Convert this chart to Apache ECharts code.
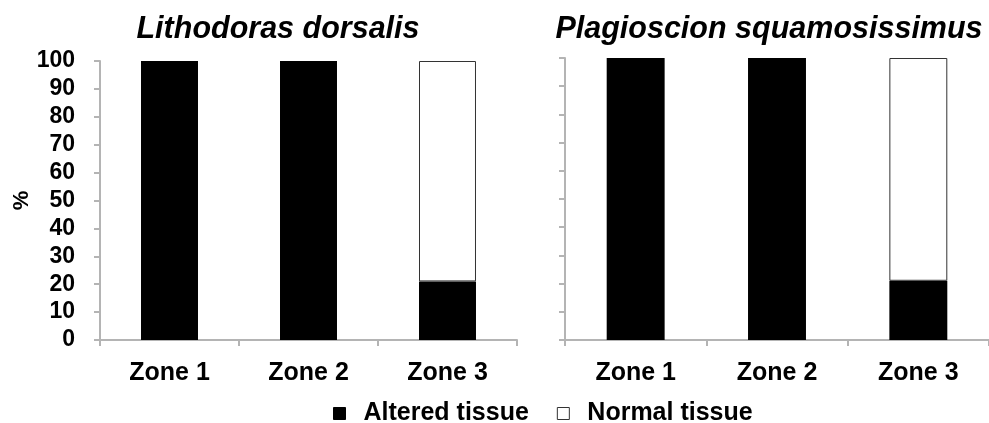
<!DOCTYPE html>
<html><head><meta charset="utf-8">
<script src="https://cdn.jsdelivr.net/npm/echarts@6/dist/echarts.min.js"></script>
<style>html,body{margin:0;padding:0;background:#fff}#c{width:989px;height:423px}</style>
</head><body><div id="c"></div>
<script>
const categories = ['Zone 1', 'Zone 2', 'Zone 3'];
const titles = ['Lithodoras dorsalis', 'Plagioscion squamosissimus'];
const leftAltered = [100, 100, 21];
const leftNormal = [0, 0, 79];
const rightAltered = [100, 100, 21];
const rightNormal = [0, 0, 79];
const seriesNames = ['Altered tissue', 'Normal tissue'];

const F = 'Arial, "Liberation Sans", sans-serif';
const axisGray = '#b4b4b4';
const nz = a => a.map(v => v === 0 ? null : v);

const chart = echarts.init(document.getElementById('c'), null, {renderer: 'canvas'});
const xAx = (gi) => ({
  type: 'category', gridIndex: gi, data: categories,
  axisLine: {lineStyle: {color: axisGray, width: 2}},
  axisTick: {show: true, length: 6, lineStyle: {color: axisGray, width: 2}},
  axisLabel: {color: '#000', fontFamily: F, fontWeight: 'bold', fontSize: 25, margin: 21}
});
const yAx = (gi, labels) => ({
  type: 'value', gridIndex: gi, min: 0, max: 100, interval: 10,
  name: labels ? '%' : '', nameLocation: 'middle', nameRotate: 90, nameGap: 67,
  nameTextStyle: {color: '#000', fontFamily: F, fontWeight: 'bold', fontSize: 22},
  axisLine: {show: true, lineStyle: {color: axisGray, width: 2}},
  axisTick: {show: true, length: 6, lineStyle: {color: axisGray, width: 2}},
  splitLine: {show: false},
  axisLabel: {show: labels, color: '#000', fontFamily: F, fontWeight: 'bold', fontSize: 23, margin: 25}
});
const bar = (name, data, gi, normal) => ({
  name, type: 'bar', stack: 's' + gi, xAxisIndex: gi, yAxisIndex: gi,
  barWidth: '41%', data: data,
  itemStyle: normal ? {color: '#fff', borderColor: '#333', borderWidth: 1} : {color: '#000'}
});
chart.setOption({
  animation: false,
  title: [
    {text: titles[0], left: 273, top: 10, textAlign: 'center',
     textStyle: {fontFamily: F, fontStyle: 'italic', fontWeight: 'bold', fontSize: 30.5, color: '#000'}},
    {text: titles[1], left: 764, top: 10, textAlign: 'center',
     textStyle: {fontFamily: F, fontStyle: 'italic', fontWeight: 'bold', fontSize: 30.5, color: '#000'}}
  ],
  legend: {
    data: [{name: seriesNames[0], itemStyle: {color: '#000', borderColor: '#000', borderWidth: 1}},
           {name: seriesNames[1], itemStyle: {color: '#fff', borderColor: '#333', borderWidth: 1}}],
    left: 328, top: 396, icon: 'rect', itemWidth: 12, itemHeight: 12, itemGap: 28,
    textStyle: {fontFamily: F, fontWeight: 'bold', fontSize: 25, color: '#000', padding: [0, 0, 0, 13]}
  },
  grid: [
    {left: 100, right: 472, top: 61, bottom: 83},
    {left: 565, right: -13, top: 58, bottom: 83}
  ],
  xAxis: [xAx(0), xAx(1)],
  yAxis: [yAx(0, true), yAx(1, false)],
  series: [
    bar(seriesNames[0], leftAltered, 0, false),
    bar(seriesNames[1], nz(leftNormal), 0, true),
    bar(seriesNames[0], rightAltered, 1, false),
    bar(seriesNames[1], nz(rightNormal), 1, true)
  ]
});
</script></body></html>
